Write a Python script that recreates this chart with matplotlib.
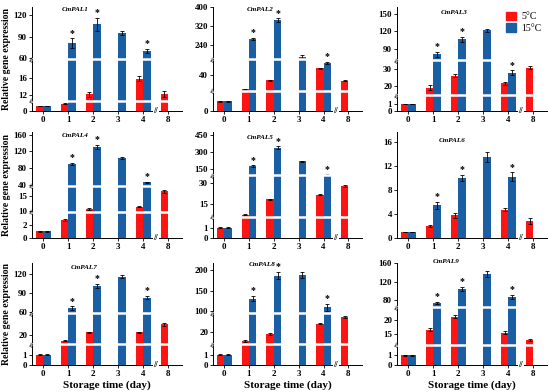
"""Relative expression of CmPAL1-9 at 5 and 15 C over storage time (broken y axes)."""
import numpy as np
import matplotlib
matplotlib.use('Agg')
import matplotlib.pyplot as plt
import matplotlib.patches as mpatches
from matplotlib.ticker import NullLocator

plt.rcParams['font.family'] = ['Liberation Serif', 'DejaVu Serif']
plt.rcParams['font.weight'] = 'bold'

# ── data ──
days = ['0', '1', '2', '3', '4', '8']
genes = ['CmPAL1', 'CmPAL2', 'CmPAL3', 'CmPAL4', 'CmPAL5',
         'CmPAL6', 'CmPAL7', 'CmPAL8', 'CmPAL9']
red_days = ['0', '1', '2', '4', '8']      # 5 C
blue_days = ['0', '1', '2', '3', '4']     # 15 C
star_days = ['1', '2', '4']

red_vals = {
    'CmPAL1': [1.0, 1.5, 12.2, 15.8, 12.2],
    'CmPAL2': [1.0, 21.7, 33.2, 48.5, 33.0],
    'CmPAL3': [1.0, 18.8, 26.0, 21.4, 30.8],
    'CmPAL4': [1.0, 2.65, 10.7, 11.4, 16.4],
    'CmPAL5': [1.0, 7.7, 18.5, 21.8, 27.9],
    'CmPAL6': [1.0, 2.0, 3.75, 4.7, 2.9],
    'CmPAL7': [1.0, 17.0, 21.3, 21.3, 25.7],
    'CmPAL8': [1.0, 16.4, 19.2, 23.5, 26.4],
    'CmPAL9': [1.0, 16.6, 21.2, 15.5, 12.8],
}
red_err = {
    'CmPAL1': [0.05, 0.1, 0.6, 0.6, 0.7],
    'CmPAL2': [0.05, 0.5, 0.5, 0.8, 0.5],
    'CmPAL3': [0.05, 1.5, 1.0, 1.0, 1.0],
    'CmPAL4': [0.05, 0.15, 0.3, 0.3, 0.4],
    'CmPAL5': [0.05, 0.5, 0.5, 0.5, 0.5],
    'CmPAL6': [0.05, 0.15, 0.4, 0.2, 0.5],
    'CmPAL7': [0.05, 0.5, 0.4, 0.3, 0.8],
    'CmPAL8': [0.05, 0.3, 0.3, 0.3, 0.3],
    'CmPAL9': [0.05, 0.4, 0.6, 0.5, 0.4],
}
blue_vals = {
    'CmPAL1': [1.0, 81.0, 107.5, 95.5, 70.0],
    'CmPAL2': [1.0, 265.0, 345.0, 189.0, 55.7],
    'CmPAL3': [1.0, 81.6, 106.8, 121.7, 27.8],
    'CmPAL4': [1.0, 90.0, 131.0, 103.0, 46.0],
    'CmPAL5': [1.0, 174.0, 339.0, 216.0, 96.0],
    'CmPAL6': [1.0, 5.4, 9.95, 13.4, 10.2],
    'CmPAL7': [1.0, 66.0, 101.0, 116.0, 83.0],
    'CmPAL8': [1.0, 131.0, 186.0, 188.0, 110.0],
    'CmPAL9': [1.0, 73.0, 104.5, 137.0, 86.5],
}
blue_err = {
    'CmPAL1': [0.05, 7.0, 9.0, 3.0, 3.0],
    'CmPAL2': [0.05, 5.0, 7.0, 6.0, 1.5],
    'CmPAL3': [0.05, 4.0, 4.0, 3.0, 1.5],
    'CmPAL4': [0.05, 3.0, 5.0, 2.0, 1.5],
    'CmPAL5': [0.05, 6.0, 12.0, 6.0, 4.0],
    'CmPAL6': [0.05, 0.6, 0.5, 0.8, 0.7],
    'CmPAL7': [0.05, 3.0, 3.0, 3.0, 3.0],
    'CmPAL8': [0.05, 6.0, 8.0, 7.0, 8.0],
    'CmPAL9': [0.05, 3.0, 4.0, 6.0, 4.0],
}

# ── broken-axis layout: (data_lo, data_hi, relative height) per segment ──
SEGMENTS = {
    'CmPAL1': [(0, 2.07, 31), (10.7, 20.2, 124), (58.6, 131.5, 158)],
    'CmPAL2': [(0, 2.03, 61), (20, 60, 94), (177.5, 400, 158)],
    'CmPAL3': [(0, 2.24, 47), (14.2, 35.4, 106), (72, 161, 160)],
    'CmPAL4': [(0, 3.9, 78), (9.6, 18.3, 79), (37.6, 166, 161)],
    'CmPAL5': [(0, 2.1, 63), (6.1, 35.4, 125), (90, 480, 130)],
    'CmPAL6': [(0, 17.6, 318)],
    'CmPAL7': [(0, 2.07, 62), (15, 31.6, 93), (58.4, 137.4, 150)],
    'CmPAL8': [(0, 2.07, 62), (15, 27.9, 93), (96, 216, 150)],
    'CmPAL9': [(0, 2.07, 62), (11.3, 24.4, 113), (63.5, 161, 135)],
}
YTICKS = {
    'CmPAL1': [0, 12, 16, 60, 90, 120],
    'CmPAL2': [0, 40, 240, 320, 400],
    'CmPAL3': [0, 1, 20, 30, 90, 120, 150],
    'CmPAL4': [0, 2, 10, 15, 40, 80, 120, 160],
    'CmPAL5': [0, 1, 15, 30, 150, 300, 450],
    'CmPAL6': [0, 4, 8, 12, 16],
    'CmPAL7': [0, 1, 20, 60, 90, 120],
    'CmPAL8': [0, 1, 20, 100, 150, 200],
    'CmPAL9': [0, 1, 15, 20, 80, 120, 160],
}
# gene-name position in axes fraction
TITLE_POS = {
    'CmPAL1': (0.29, 0.98), 'CmPAL2': (0.315, 0.98), 'CmPAL3': (0.38, 0.95),
    'CmPAL4': (0.29, 0.97), 'CmPAL5': (0.315, 0.95), 'CmPAL6': (0.37, 0.92),
    'CmPAL7': (0.35, 0.96), 'CmPAL8': (0.33, 0.99), 'CmPAL9': (0.33, 1.01),
}

RED = '#FF1414'
BLUE = '#1A5EA4'
W = 0.3


def make_scale(segs):
    data, virt, v = [], [], 0.0
    for i, (lo, hi, h) in enumerate(segs):
        data += [lo, hi]
        virt += [v + (1e-3 if i else 0.0), v + h]
        v += h
    data, virt = np.array(data, float), np.array(virt, float)
    fwd = lambda y: np.interp(np.asarray(y, float), data, virt)
    inv = lambda y: np.interp(np.asarray(y, float), virt, data)
    return fwd, inv


fig = plt.figure(figsize=(5.5, 3.92), dpi=100)
cols = [(32, 150), (213, 149), (397, 150)]
rows = [(111, 104), (238, 106), (365, 102)]

pos = {d: i for i, d in enumerate(days)}
for k, gene in enumerate(genes):
    r, c = divmod(k, 3)
    x0, w = cols[c]
    yb, h = rows[r]
    ax = fig.add_axes([x0 / 550, 1 - yb / 392, w / 550, h / 392])

    segs = SEGMENTS[gene]
    ax.set_yscale('function', functions=make_scale(segs))

    xr = np.array([pos[d] for d in red_days]) - W / 2
    xb = np.array([pos[d] for d in blue_days]) + W / 2
    ax.bar(xr, red_vals[gene], W, color=RED, zorder=1)
    ax.bar(xb, blue_vals[gene], W, color=BLUE, zorder=1)
    ax.errorbar(xr, red_vals[gene], yerr=red_err[gene], fmt='none', ecolor='black',
                elinewidth=0.6, capsize=1.5, capthick=0.6, zorder=2)
    ax.errorbar(xb, blue_vals[gene], yerr=blue_err[gene], fmt='none', ecolor='black',
                elinewidth=0.6, capsize=1.5, capthick=0.6, zorder=2)

    for d in star_days:
        i = blue_days.index(d)
        top = blue_vals[gene][i] + blue_err[gene][i]
        ax.annotate('*', (pos[d] + W / 2, top), xytext=(0, 0.5), textcoords='offset points',
                    ha='center', va='bottom', fontsize=7)

    # white gaps across the bars + marks on the axis at each break
    for lo, hi, _ in segs[1:]:
        ax.axhline(lo, color='white', lw=1.8, zorder=3)
        ax.text(0, lo, '\u2248', transform=ax.get_yaxis_transform(), rotation=70,
                ha='center', va='center', fontsize=6, zorder=4)

    ax.set_xlim(-0.45, 5.55)
    ax.set_ylim(0, segs[-1][1])
    ax.set_xticks(range(len(days)))
    ax.set_xticklabels(days)
    ax.set_yticks(YTICKS[gene])
    ax.yaxis.set_minor_locator(NullLocator())
    ax.tick_params(labelsize=6.5, length=2, width=0.6, pad=1.5)
    for lab in ax.get_xticklabels() + ax.get_yticklabels():
        lab.set_fontweight('bold')
    ax.spines['top'].set_visible(False)
    ax.spines['right'].set_visible(False)
    ax.spines['left'].set_linewidth(0.7)
    ax.spines['bottom'].set_linewidth(0.7)

    ax.text(4.5, 0, '//', transform=ax.get_xaxis_transform(), ha='center', va='center',
            fontsize=6, bbox=dict(facecolor='white', edgecolor='none', pad=0.3), zorder=5)
    tx, ty = TITLE_POS[gene]
    ax.text(tx, ty, gene, transform=ax.transAxes, ha='center', va='center',
            fontsize=5.1, style='italic', fontweight='bold')

    if c == 0:
        ax.set_ylabel('Relative gene expression', fontsize=7, fontweight='bold', labelpad=2)
    if r == 2:
        ax.set_xlabel('Storage time (day)', fontsize=8, fontweight='bold', labelpad=1.5)
    if gene == 'CmPAL3':
        handles = [mpatches.Patch(color=RED, label='5\u00b0C'),
                   mpatches.Patch(color=BLUE, label='15\u00b0C')]
        leg = ax.legend(handles=handles, loc='upper right', bbox_to_anchor=(1.02, 1.04),
                        frameon=False, fontsize=7, handlelength=1.0, handleheight=1.0,
                        handletextpad=0.5, labelspacing=0.2)
        for t in leg.get_texts():
            t.set_fontweight('normal')

fig.savefig('out.png', dpi=100)
